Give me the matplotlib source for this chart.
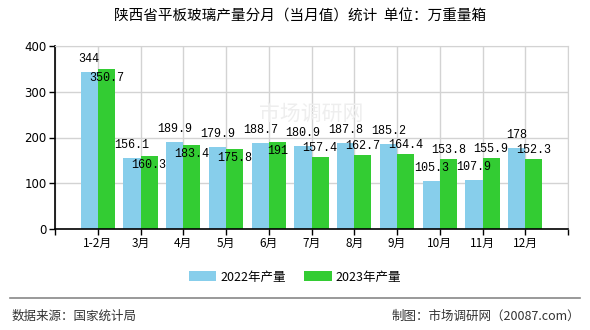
import matplotlib
matplotlib.use("Agg")
import matplotlib.pyplot as plt
from matplotlib.lines import Line2D
import numpy as np

plt.rcParams['font.family'] = ['Noto Sans CJK SC', 'DejaVu Sans']

categories = ['1-2月', '3月', '4月', '5月', '6月', '7月', '8月', '9月', '10月', '11月', '12月']
values_2022 = [344, 156.1, 189.9, 179.9, 188.7, 180.9, 187.8, 185.2, 105.3, 107.9, 178]
values_2023 = [350.7, 160.3, 183.4, 175.8, 191, 157.4, 162.7, 164.4, 153.8, 155.9, 152.3]
series_names = ['2022年产量', '2023年产量']
yticks = [0, 100, 200, 300, 400]

title = '陕西省平板玻璃产量分月（当月值）统计  单位：万重量箱'
source = '数据来源：国家统计局'
credit = '制图：市场调研网（20087.com）'
watermark = '市场调研网'

c22 = '#87CEEB'
c23 = '#33CC33'

fig = plt.figure(figsize=(5.9, 3.3), dpi=100)
ax = fig.add_axes([55/590, 1-229/330, (568-55)/590, (229-46)/330])

x = np.arange(len(categories))
w = 0.4
b1 = ax.bar(x - w/2, values_2022, w, color=c22, label=series_names[0], zorder=2)
b2 = ax.bar(x + w/2, values_2023, w, color=c23, label=series_names[1], zorder=2)

ax.set_xlim(-1, len(categories))
ax.set_ylim(0, 400)
ax.set_yticks(yticks)
ax.set_yticklabels([str(v) for v in yticks], fontsize=8.5, family='DejaVu Sans')
ax.set_xticks(np.arange(-1, len(categories) + 1))
ax.set_xticklabels([''] + categories + [''], fontsize=8.5)
ax.grid(True, color='#d3d3d3', linewidth=1, zorder=0)
ax.set_axisbelow(True)
for s in ['top', 'right']:
    ax.spines[s].set_color('#d3d3d3')
for s in ['left', 'bottom']:
    ax.spines[s].set_color('black')
    ax.spines[s].set_linewidth(1.2)
ax.tick_params(axis='both', direction='out', length=4, width=1, color='black', pad=2)

# faint watermark behind the bars
ax.text(0.5, 0.63, watermark, transform=ax.transAxes, fontsize=15, color='#eeeeee',
        ha='center', va='center', zorder=1)

def fmt(v):
    return ('%g' % v)

lab_font = dict(fontsize=8.5, family=['Liberation Mono', 'DejaVu Sans Mono'], ha='center', va='center', zorder=5)
for i, (a, b) in enumerate(zip(values_2022, values_2023)):
    ax.annotate(fmt(a), (x[i] - w/2, a), xytext=(0, 13), textcoords='offset pixels', **lab_font)
    if abs(a - b) < 15:
        ax.annotate(fmt(b), (x[i] + w/2, b), xytext=(0, -9), textcoords='offset pixels', **lab_font)
    else:
        ax.annotate(fmt(b), (x[i] + w/2, b), xytext=(0, 9), textcoords='offset pixels', **lab_font)

fig.text(300/590, 1-17/330, title, fontsize=10.5, ha='center', va='center')

fig.legend(handles=[b1, b2], labels=series_names, loc='center', bbox_to_anchor=(295/590, 1-277/330),
           ncol=2, frameon=False, fontsize=9, handlelength=2.2, handleheight=0.8, columnspacing=1.5,
           handletextpad=0.3)

fig.add_artist(Line2D([10/590, 580/590], [1-298/330, 1-298/330], color='#888888', linewidth=1.2,
                      transform=fig.transFigure))
fig.text(12/590, 1-316/330, source, fontsize=9, color='#333333', ha='left', va='center')
fig.text(580/590, 1-316/330, credit, fontsize=9, color='#333333', ha='right', va='center')

fig.savefig('out.png', dpi=100)
